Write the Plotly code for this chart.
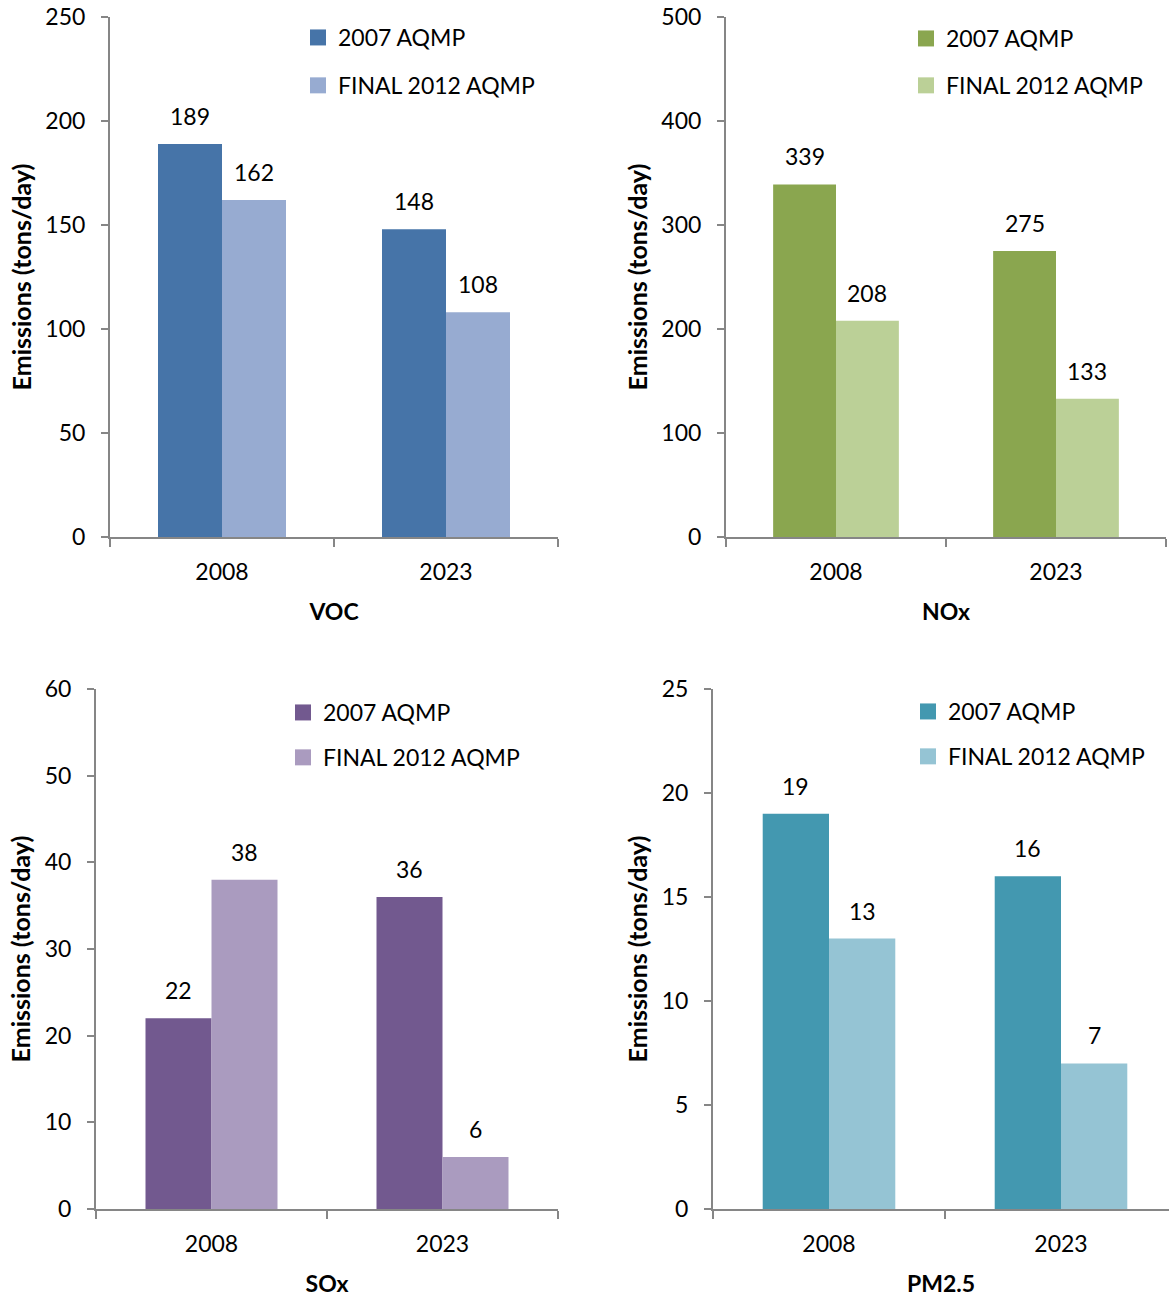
import plotly.graph_objects as go

# ---------------- data ----------------
years = ["2008", "2023"]
series_names = ["2007 AQMP", "FINAL 2012 AQMP"]

voc_2007 = [189, 148]
voc_2012 = [162, 108]
nox_2007 = [339, 275]
nox_2012 = [208, 133]
sox_2007 = [22, 36]
sox_2012 = [38, 6]
pm_2007 = [19, 16]
pm_2012 = [13, 7]

pollutants = ["VOC", "NOx", "SOx", "PM2.5"]
y_max = [250, 500, 60, 25]
y_step = [50, 100, 10, 5]

# ---------------- style ----------------
W, H = 1169, 1300
FONT = "Lato"
FS = 23
AXIS_COLOR = "#868686"
BARGAP = 1 - 4 / 7

colors = [
    ("#4674A8", "#97ABD1"),
    ("#8AA64F", "#BBD097"),
    ("#72598F", "#AA9BBF"),
    ("#4398B0", "#95C4D4"),
]

# panel geometry in pixels: (x_left, x_right, y_bottom, y_top)
panels_px = [
    (110, 558, 537, 17),
    (726, 1166, 537, 17),
    (96, 558, 1209, 689),
    (713, 1169, 1209, 689),
]
x_ranges = [[-0.5, 1.5], [-0.5, 1.5], [-0.5, 1.5], [-0.5, -0.5 + (1169 - 713) / 232]]
legend_px = [(298, 16, 15), (906, 17, 14), (283, 691, 12), (908, 690, 12)]

data = [
    (voc_2007, voc_2012),
    (nox_2007, nox_2012),
    (sox_2007, sox_2012),
    (pm_2007, pm_2012),
]

fig = go.Figure()
annotations = []

for i, (pol, (s1, s2)) in enumerate(zip(pollutants, data)):
    n = i + 1
    xa = "x" if n == 1 else f"x{n}"
    ya = "y" if n == 1 else f"y{n}"
    leg = "legend" if n == 1 else f"legend{n}"
    for j, (vals, col, name) in enumerate(zip((s1, s2), colors[i], series_names)):
        grp = f"{pol}_{j}"
        fig.add_trace(go.Bar(
            x=years, y=vals, name=name, marker=dict(color=col, line=dict(width=0)),
            xaxis=xa, yaxis=ya, legendgroup=grp, showlegend=False,
            hoverinfo="x+y+name",
        ))
        # legend entry (square swatch) for this series
        fig.add_trace(go.Scatter(
            x=[None], y=[None], mode="markers", name=name,
            marker=dict(symbol="square", size=16, color=col),
            xaxis=xa, yaxis=ya, legend=leg, legendgroup=grp, showlegend=True,
            hoverinfo="skip",
        ))
        for k, v in enumerate(vals):
            annotations.append(dict(
                x=k + (-1 if j == 0 else 1) * (1 - BARGAP) / 4, y=v,
                xref=xa, yref=ya, text=str(v), showarrow=False,
                yanchor="bottom", xanchor="center", yshift=12,
                font=dict(family=FONT, size=FS, color="#000"),
            ))

    xl, xr, yb, yt = panels_px[i]
    xdom = [xl / W, min(xr / W, 1.0)]
    ydom = [1 - yb / H, 1 - yt / H]
    xkey = "xaxis" if n == 1 else f"xaxis{n}"
    ykey = "yaxis" if n == 1 else f"yaxis{n}"
    fig.layout[xkey] = dict(
        domain=xdom, anchor=ya, type="category", range=x_ranges[i],
        showline=True, linecolor=AXIS_COLOR, linewidth=2,
        ticks="outside", tickson="boundaries", ticklen=8, tickcolor=AXIS_COLOR, tickwidth=2,
        showgrid=False, zeroline=False, automargin=False,
        tickfont=dict(family=FONT, size=FS, color="#000"), ticklabelstandoff=13,
        title=dict(text=f"<b>{pol}</b>", font=dict(family=FONT, size=FS, color="#000"), standoff=20),
        fixedrange=True,
    )
    fig.layout[ykey] = dict(
        domain=ydom, anchor=xa, range=[0, y_max[i]], dtick=y_step[i], tick0=0,
        showline=True, linecolor=AXIS_COLOR, linewidth=2,
        ticks="outside", ticklen=7, tickcolor=AXIS_COLOR, tickwidth=2,
        showgrid=False, zeroline=False, automargin=False,
        tickfont=dict(family=FONT, size=FS, color="#000"), ticklabelstandoff=11,
        title=dict(text="<b>Emissions (tons/day)</b>", font=dict(family=FONT, size=25, color="#000"), standoff=7),
        fixedrange=True,
    )
    lx, ly, gap = legend_px[i]
    fig.layout[leg] = dict(
        x=lx / W, y=1 - ly / H, xanchor="left", yanchor="top",
        xref="paper", yref="paper",
        bgcolor="rgba(0,0,0,0)", borderwidth=0,
        font=dict(family=FONT, size=FS, color="#000"),
        traceorder="grouped", tracegroupgap=gap, orientation="v",
        itemsizing="trace",
    )

fig.update_layout(
    template="none",
    width=W, height=H,
    margin=dict(l=0, r=0, t=0, b=0),
    paper_bgcolor="white", plot_bgcolor="white",
    barmode="group", bargap=BARGAP, bargroupgap=0,
    annotations=annotations,
    font=dict(family=FONT, size=FS, color="#000"),
)

fig.write_html("out.html", config={"displayModeBar": False},
               post_script="document.body.style.margin='0';")
